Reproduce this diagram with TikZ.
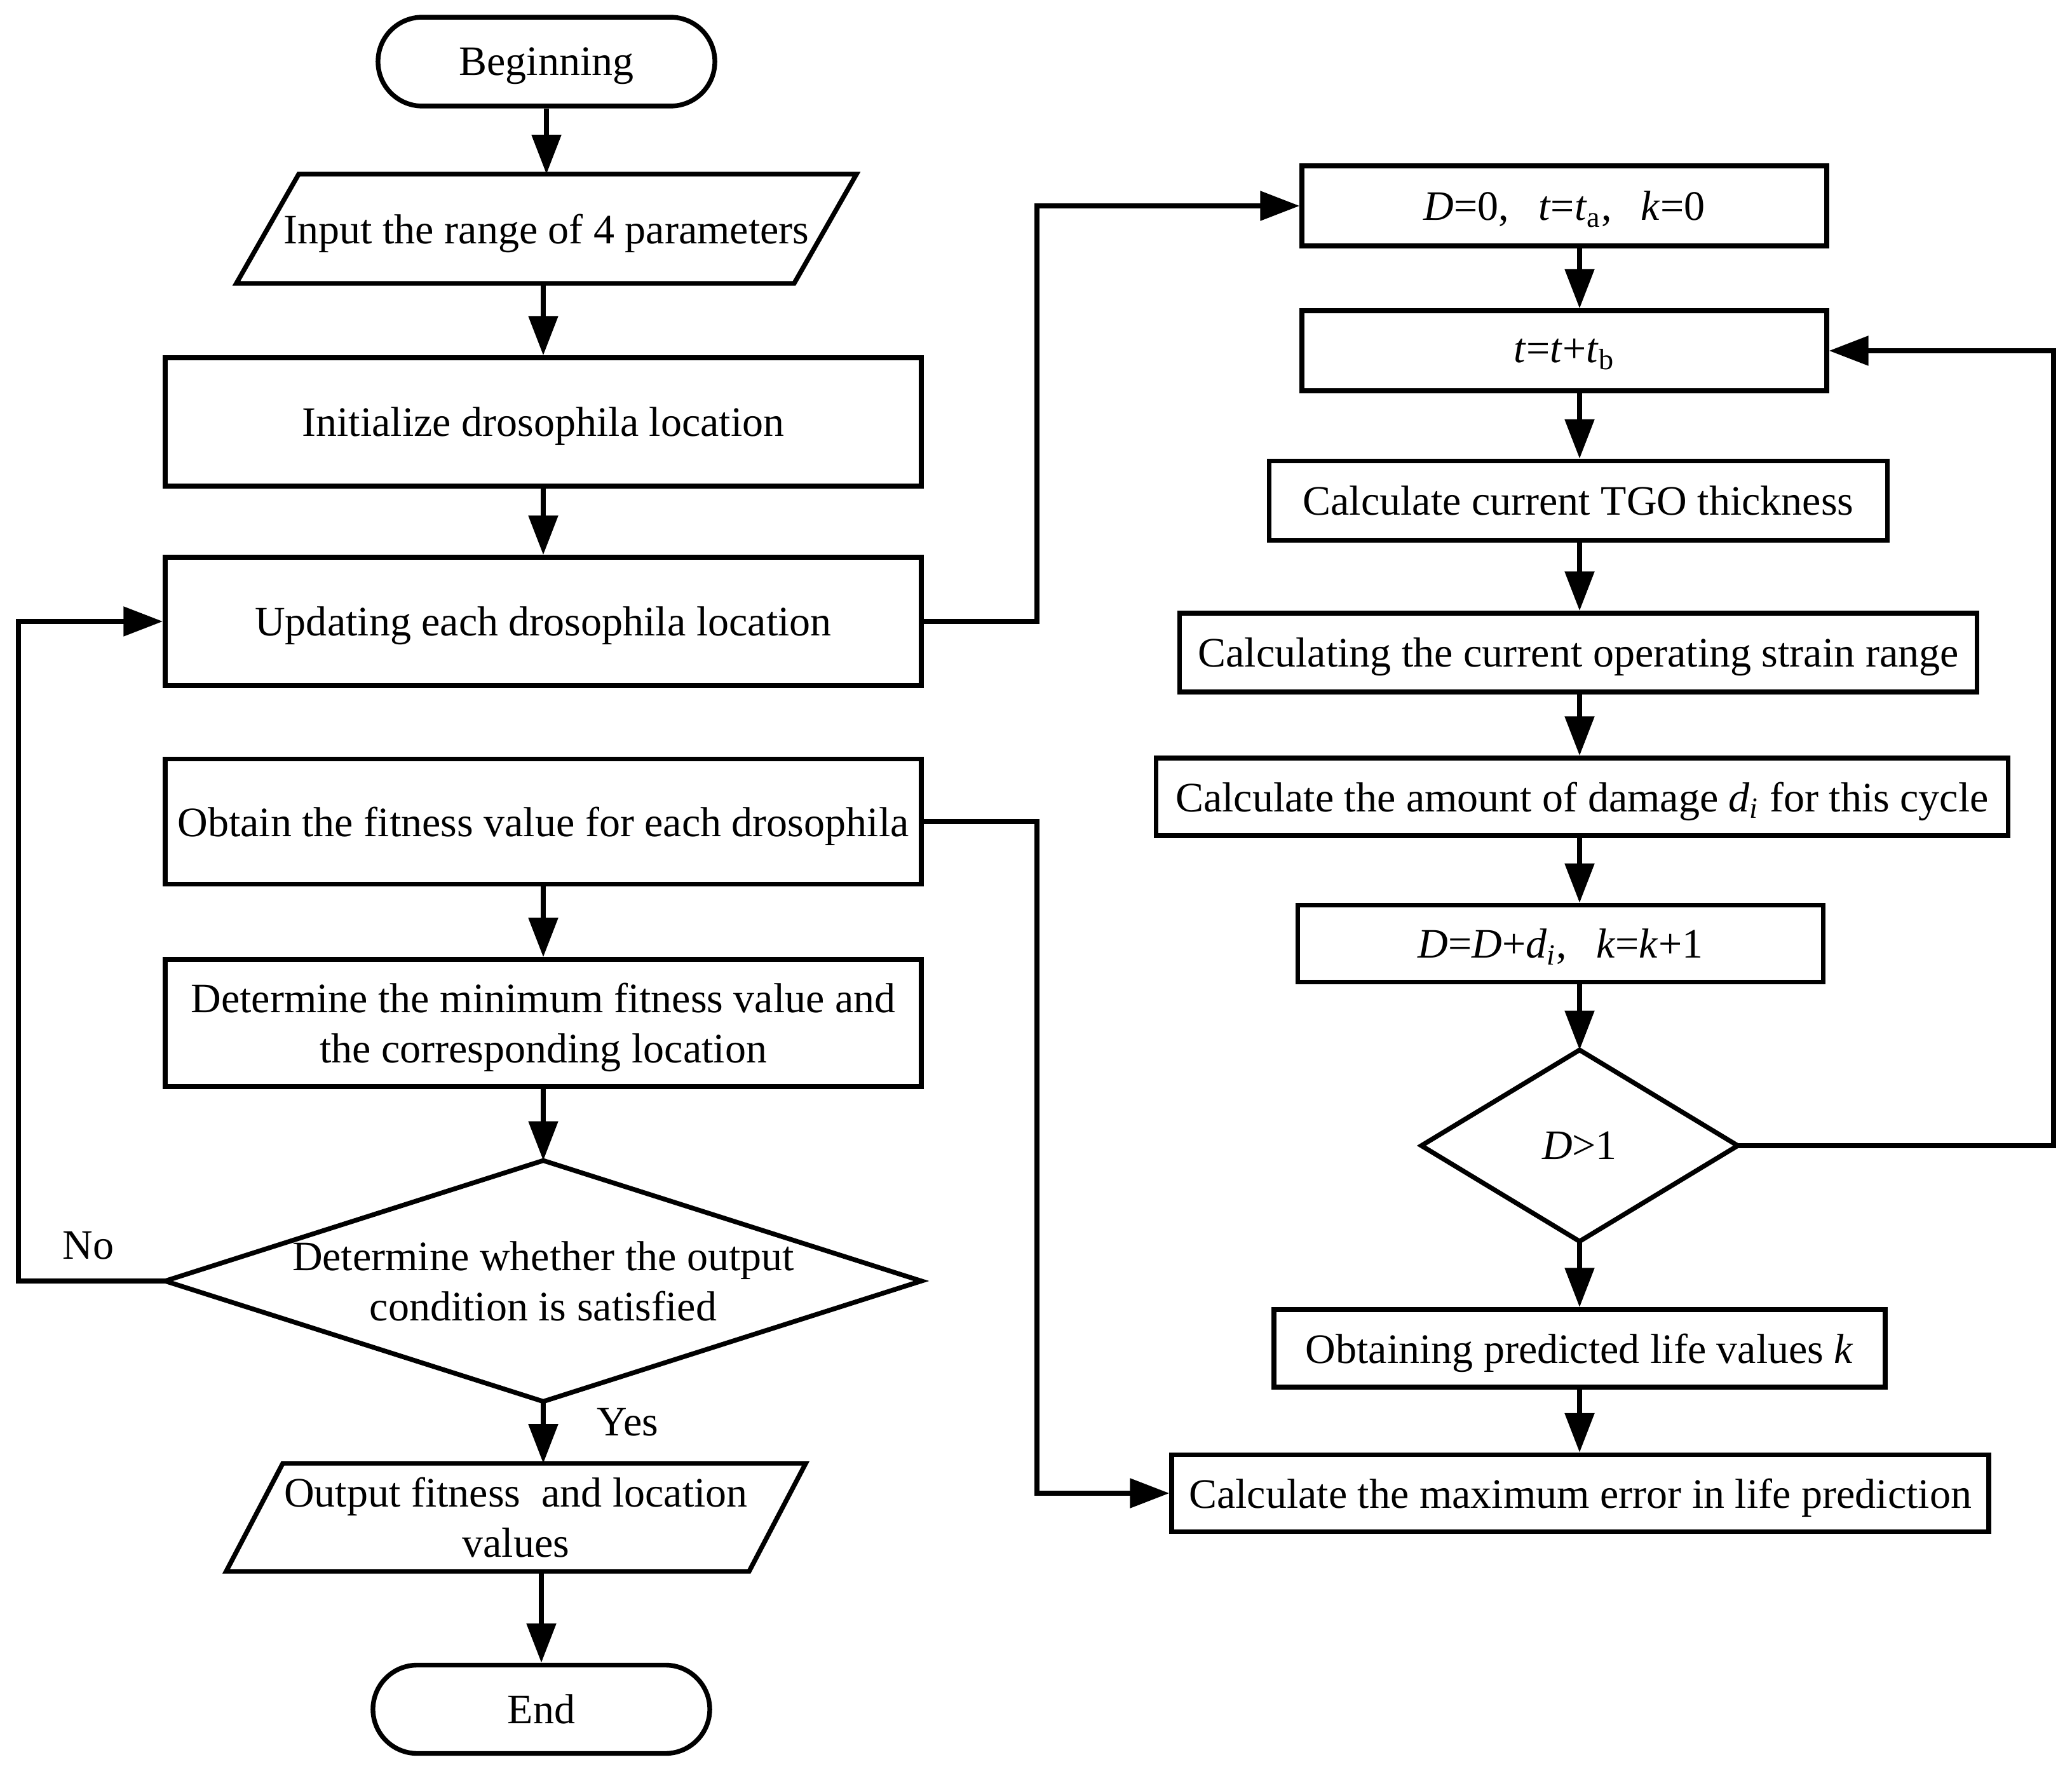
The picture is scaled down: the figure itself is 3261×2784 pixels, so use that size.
\documentclass[tikz,border=0pt]{standalone}
\usepackage{fontspec}
\setmainfont{Liberation Serif}
\usetikzlibrary{arrows.meta}
\begin{document}
\begin{tikzpicture}[x=0.2424pt, y=-0.2424pt, line width=1.8pt,
  every node/.style={font=\fontsize{16}{19.2}\selectfont, align=center, text depth=0pt},
  box/.style={draw, rectangle, inner sep=0pt},
  term/.style={box, rounded corners=16.9pt, minimum width=128.5pt, minimum height=33.9pt},
  ghost/.style={inner sep=0pt, outer sep=0pt},
  arr/.style={-{Triangle[length=15pt,width=11pt]}}]
\useasboundingbox[fill=white] (0,0) rectangle (3261,2784);

% ---------- left column ----------
\node[term] (begin) at (860,97) {Beginning};
\node[ghost, minimum width=212.8pt, minimum height=41.7pt] (input) at (860,360) {Input the range of 4 parameters};
\draw ([xshift=11.9pt]input.north west) -- ([xshift=11.9pt]input.north east)
   -- ([xshift=-11.9pt]input.south east) -- ([xshift=-11.9pt]input.south west) -- cycle;
\node[box, minimum width=288.5pt, minimum height=49pt] (init) at (855,664) {Initialize drosophila location};
\node[box, minimum width=288.5pt, minimum height=49pt] (update) at (855,978) {Updating each drosophila location};
\node[box, minimum width=288.5pt, minimum height=47.8pt] (obtain) at (855,1293) {Obtain the fitness value for each drosophila};
\node[box, minimum width=288.5pt, minimum height=48.5pt] (determine) at (855,1610) {Determine the minimum fitness value and\\the corresponding location};
\node[ghost, minimum width=288.5pt, minimum height=91.9pt] (cond) at (855,2016) {Determine whether the output\\condition is satisfied};
\draw (cond.north) -- (cond.east) -- (cond.south) -- (cond.west) -- cycle;
\node[ghost, minimum width=199.5pt, minimum height=41.2pt] (output) at (812,2388) {Output fitness\ \ and location\\values};
\draw ([xshift=10.8pt]output.north west) -- ([xshift=10.8pt]output.north east)
   -- ([xshift=-10.8pt]output.south east) -- ([xshift=-10.8pt]output.south west) -- cycle;
\node[term, minimum height=33.7pt] (end) at (852,2690) {End};
\node (no) at (139,1960) {No};
\node (yes) at (988,2238) {Yes};

% ---------- right column ----------
\node[box, minimum width=200.2pt, minimum height=30.5pt] (init2) at (2462,324) {\textit{D}=0,\hspace{0.7em}\textit{t}=\textit{t}\textsubscript{a},\hspace{0.7em}\textit{k}=0};
\node[box, minimum width=200.2pt, minimum height=30.5pt] (tupd) at (2462,552) {\textit{t}=\textit{t}+\textit{t}\textsubscript{b}};
\node[box, minimum width=235.9pt, minimum height=30.3pt] (tgo) at (2484,788) {Calculate current TGO thickness};
\node[box, minimum width=304.2pt, minimum height=30.1pt] (strain) at (2484,1027) {Calculating the current operating strain range};
\node[box, minimum width=325.1pt, minimum height=29.6pt] (damage) at (2490,1254) {Calculate the amount of damage \textit{d}\textsubscript{\textit{i}} for this cycle};
\node[box, minimum width=200.5pt, minimum height=29.3pt] (ddi) at (2456,1485) {\textit{D}=\textit{D}+\textit{d}\textsubscript{\textit{i}},\hspace{0.7em}\textit{k}=\textit{k}+1};
\node[ghost, minimum width=120.7pt, minimum height=73pt] (dcheck) at (2486,1803) {\textit{D}>1};
\draw (dcheck.north) -- (dcheck.east) -- (dcheck.south) -- (dcheck.west) -- cycle;
\node[box, minimum width=233.2pt, minimum height=29.6pt] (life) at (2486,2122) {Obtaining predicted life values \textit{k}};
\node[box, minimum width=311.7pt, minimum height=29.3pt] (maxerr) at (2487,2350) {Calculate the maximum error in life prediction};

% ---------- bus coordinates ----------
\coordinate (lx) at (855,0);
\coordinate (rx) at (2486,0);
\coordinate (lbus) at (29,0);
\coordinate (mbus) at (1632,0);
\coordinate (rbus) at (3232,0);

% ---------- left arrows ----------
\draw[arr] (begin.south) -- (input.north);
\draw[arr] (input.south -| lx) -- (init.north -| lx);
\draw[arr] (init.south) -- (update.north);
\draw[arr] (obtain.south) -- (determine.north);
\draw[arr] (determine.south) -- (cond.north);
\draw[arr] (cond.south) -- (output.north -| lx);
\draw[arr] (output.south -| end.north) -- (end.north);
\draw[arr] (cond.west) -- (cond.west -| lbus) -- (update.west -| lbus) -- (update.west);
\draw[arr] (update.east) -- (update.east -| mbus) -- (init2.west -| mbus) -- (init2.west);
\draw[arr] (obtain.east) -- (obtain.east -| mbus) -- (maxerr.west -| mbus) -- (maxerr.west);

% ---------- right arrows ----------
\draw[arr] (init2.south -| rx) -- (tupd.north -| rx);
\draw[arr] (tupd.south -| rx) -- (tgo.north -| rx);
\draw[arr] (tgo.south -| rx) -- (strain.north -| rx);
\draw[arr] (strain.south -| rx) -- (damage.north -| rx);
\draw[arr] (damage.south -| rx) -- (ddi.north -| rx);
\draw[arr] (ddi.south -| rx) -- (dcheck.north);
\draw[arr] (dcheck.south) -- (life.north -| rx);
\draw[arr] (life.south -| rx) -- (maxerr.north -| rx);
\draw[arr] (dcheck.east) -- (dcheck.east -| rbus) -- (tupd.east -| rbus) -- (tupd.east);
\end{tikzpicture}
\end{document}
